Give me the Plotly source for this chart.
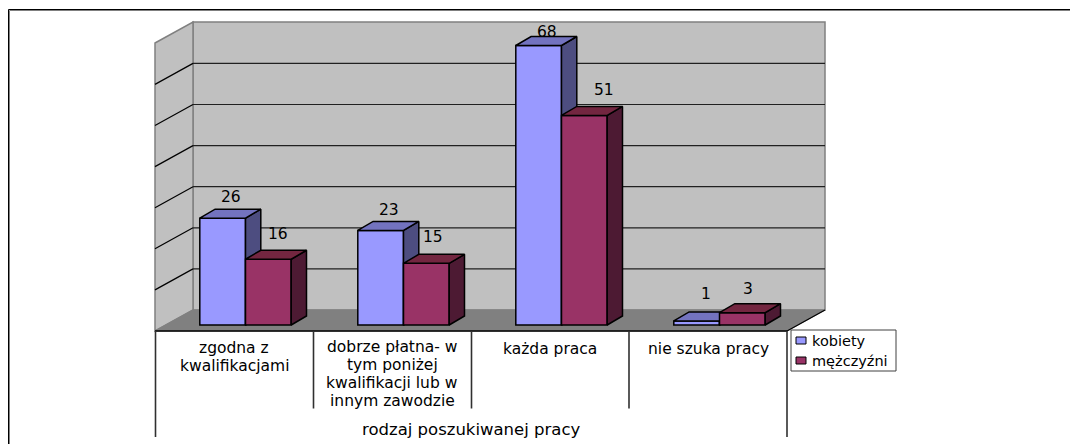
import plotly.graph_objects as go

# values
categories = [0, 1, 2, 3]
category_lines = [
    ['zgodna z', 'kwalifikacjami'],
    ['dobrze płatna- w', 'tym poniżej', 'kwalifikacji lub w', 'innym zawodzie'],
    ['każda praca'],
    ['nie szuka pracy'],
]
group_title = 'rodzaj poszukiwanej pracy'
kobiety = [26, 23, 68, 1]
mezczyzni = [16, 15, 51, 3]
gridlines = [10, 20, 30, 40, 50, 60, 70]

# label nudges in pixels, relative to the front top centre of each bar
kobiety_dx = [8, 8, 8, 9]
kobiety_dy = [21, 20, 14, 27]
mezczyzni_dx = [10, 7, 20, 6]
mezczyzni_dy = [25, 26, 25, 24]

# pixel row of the first line of each category label
line_start = [348, 346.5, 349, 349]
LINE_STEP = 18.3

W, H = 1070, 444
PX_X = 158.0   # pixels per category
PX_Y = 4.11    # pixels per value unit
ORIGIN_X = 245.5
ORIGIN_Y = 325.0
BAR_W = 45.7 / PX_X
DEPTH_X = 15.3 / PX_X
DEPTH_Y = 9.0 / PX_Y

BLUE, BLUE_SIDE, BLUE_TOP = '#9999FF', '#4D4D80', '#7373BF'
RED, RED_SIDE, RED_TOP = '#993366', '#4D1A33', '#732640'
WALL, FLOOR, EDGE = '#C0C0C0', '#808080', '#808080'
FONT = 'DejaVu Sans'
LABEL_SIZE = 15.5


def gx(px):
    return (px - ORIGIN_X) / PX_X


def gy(py):
    return (ORIGIN_Y - py) / PX_Y


def polygon(points, fill, line=None, width=1.2):
    path = 'M' + ' L'.join(f'{gx(x)},{gy(y)}' for x, y in points) + ' Z'
    return dict(type='path', xref='x', yref='y', path=path, fillcolor=fill,
                line=dict(color=line or fill, width=width), layer='below')


def segment(x0, y0, x1, y1, color='black', width=1.2, layer='below'):
    return dict(type='line', xref='x', yref='y', x0=gx(x0), y0=gy(y0), x1=gx(x1), y1=gy(y1),
                line=dict(color=color, width=width), layer=layer)


def bar_faces(values, left):
    side_x, side_y, top_x, top_y = [], [], [], []
    for c, v in zip(categories, values):
        x0 = c + left
        x1 = x0 + BAR_W
        side_x += [x1, x1 + DEPTH_X, x1 + DEPTH_X, x1, x1, None]
        side_y += [0, DEPTH_Y, v + DEPTH_Y, v, 0, None]
        top_x += [x0, x1, x1 + DEPTH_X, x0 + DEPTH_X, x0, None]
        top_y += [v, v, v + DEPTH_Y, v + DEPTH_Y, v, None]
    return side_x, side_y, top_x, top_y


def add_series(fig, name, values, left, front, side, top, xaxis, yaxis):
    side_x, side_y, top_x, top_y = bar_faces(values, left)
    fig.add_trace(go.Bar(x=categories, y=values, name=name, width=BAR_W, offset=left,
                         marker=dict(color=front, line=dict(color='black', width=1.5)),
                         xaxis=xaxis, yaxis=yaxis))
    for xs, ys, color in [(side_x, side_y, side), (top_x, top_y, top)]:
        fig.add_trace(go.Scatter(x=xs, y=ys, mode='lines', fill='toself', fillcolor=color,
                                 line=dict(color='black', width=1.5), hoverinfo='skip',
                                 xaxis=xaxis, yaxis=yaxis))


fig = go.Figure()
add_series(fig, 'kobiety', kobiety, -BAR_W, BLUE, BLUE_SIDE, BLUE_TOP, 'x', 'y')
add_series(fig, 'mężczyźni', mezczyzni, 0, RED, RED_SIDE, RED_TOP, 'x2', 'y2')

# walls, floor and the table under the chart
shapes = [
    polygon([(193, 22), (825, 22), (825, 310), (193, 310)], WALL, EDGE, 1.5),
    polygon([(155, 43), (193, 22), (193, 310), (155, 331)], WALL, EDGE, 1.5),
    polygon([(155, 331), (193, 310), (825, 310), (787, 331)], FLOOR),
]
back_zero = gy(310)
for g in gridlines[:-1]:
    y_px = ORIGIN_Y - (back_zero + g) * PX_Y
    shapes.append(segment(193, y_px, 825, y_px, color='#202020'))
    shapes.append(segment(155, y_px + 21, 193, y_px))
shapes += [
    segment(155, 331, 787, 331, width=1.5),
    segment(787, 331, 825, 310),
    segment(155.5, 331, 155.5, 437, color='#303030', width=1.6),
    segment(787, 331, 787, 437, color='#303030', width=1.6),
    segment(313.5, 331, 313.5, 408.5, color='#303030', width=1.6),
    segment(471.5, 331, 471.5, 408.5, color='#303030', width=1.6),
    segment(629, 331, 629, 408.5, color='#303030', width=1.6),
    # outer frame, black with a grey shadow line, open on the right
    segment(9.5, 10.5, W, 10.5, color='#808080', width=1),
    segment(9.5, 10.5, 9.5, H, color='#808080', width=1),
    segment(8.5, 9.5, W, 9.5, width=1),
    segment(8.5, 9.5, 8.5, H, width=1),
    # legend
    dict(type='rect', xref='x', yref='y', x0=gx(791), x1=gx(896), y0=gy(330), y1=gy(371),
         fillcolor='white', line=dict(color='#404040', width=1), layer='above'),
    dict(type='rect', xref='x', yref='y', x0=gx(796), x1=gx(806), y0=gy(337), y1=gy(344),
         fillcolor=BLUE, line=dict(color='black', width=1), layer='above'),
    dict(type='rect', xref='x', yref='y', x0=gx(796), x1=gx(806), y0=gy(357), y1=gy(364),
         fillcolor=RED, line=dict(color='black', width=1), layer='above'),
]

annotations = []


def add_text(text, x, y, size=LABEL_SIZE, anchor='center', xshift=0, yshift=0):
    annotations.append(dict(text=text, x=x, y=y, xref='x', yref='y', showarrow=False,
                            xanchor=anchor, yanchor='middle', xshift=xshift, yshift=yshift,
                            font=dict(family=FONT, size=size, color='black')))


for c, v, dx, dy in zip(categories, kobiety, kobiety_dx, kobiety_dy):
    add_text(str(v), c - BAR_W / 2, v, xshift=dx, yshift=dy)
for c, v, dx, dy in zip(categories, mezczyzni, mezczyzni_dx, mezczyzni_dy):
    add_text(str(v), c + BAR_W / 2, v, xshift=dx, yshift=dy)

for c, lines, start in zip(categories, category_lines, line_start):
    for i, line in enumerate(lines):
        add_text(line, c + gx(234) - gx(245.5), gy(start + i * LINE_STEP))
add_text(group_title, gx(471), gy(429), size=16.5)
add_text('kobiety', gx(810), gy(341), size=14.5, anchor='left')
add_text('mężczyźni', gx(810), gy(361), size=14.5, anchor='left')

x_range = [gx(0), gx(W)]
y_range = [gy(H), gy(0)]
fig.update_layout(
    width=W, height=H, margin=dict(l=0, r=0, t=0, b=0),
    paper_bgcolor='white', plot_bgcolor='white', showlegend=False,
    xaxis=dict(range=x_range, visible=False, fixedrange=True),
    yaxis=dict(range=y_range, visible=False, fixedrange=True),
    xaxis2=dict(range=x_range, visible=False, fixedrange=True, overlaying='x'),
    yaxis2=dict(range=y_range, visible=False, fixedrange=True, overlaying='y'),
    shapes=shapes, annotations=annotations,
)

fig.write_html('out.html', config={'displayModeBar': False},
               post_script="document.body.style.margin='0';")
